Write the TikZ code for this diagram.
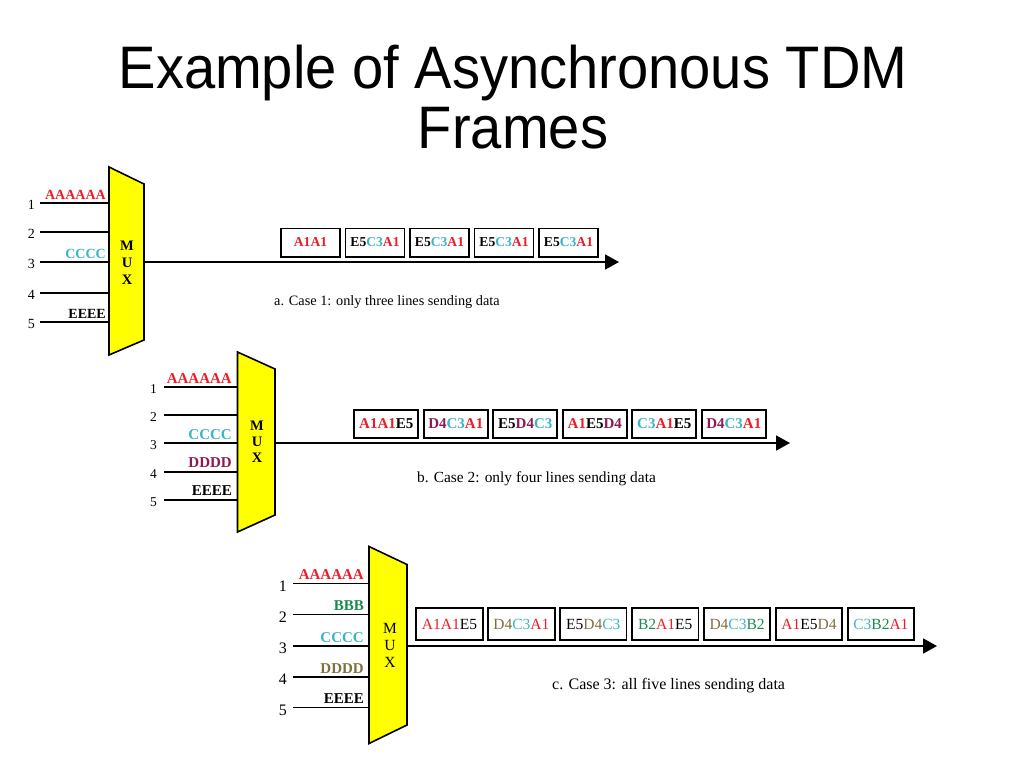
\documentclass[tikz,border=0pt]{standalone}
\usepackage{fontspec}
\setmainfont{Liberation Serif}
\newfontfamily\titlefont{Liberation Sans}
\usetikzlibrary{positioning,arrows.meta}

\definecolor{cA}{HTML}{EE1C25}
\definecolor{cB}{HTML}{1B8A4C}
\definecolor{cC}{HTML}{3CB4C8}
\definecolor{cD}{HTML}{8B1A55}
\definecolor{cE}{HTML}{7F7040}
\definecolor{muxyellow}{HTML}{FFFF00}

\newcommand{\tA}[1]{\textcolor{cA}{#1}}
\newcommand{\tB}[1]{\textcolor{cB}{#1}}
\newcommand{\tC}[1]{\textcolor{cC}{#1}}
\newcommand{\tD}[1]{\textcolor{cD}{#1}}
\newcommand{\tE}[1]{\textcolor{cE}{#1}}

\tikzset{
	wire/.style={line width=1.8pt},
	outline/.style={wire, -{Triangle[length=14pt,width=15pt]}},
	muxbox/.style={draw, line width=1.6pt, fill=muxyellow},
	num/.style={anchor=east, inner sep=0pt},
	inlbl/.style={anchor=base east, inner sep=0pt, font=\bfseries\fontsize{15}{15}\selectfont},
	muxlbl/.style={align=center, inner sep=0pt},
	frm/.style={draw, line width=1.8pt, inner sep=0pt, node distance=3.7pt},
	capt/.style={anchor=base west, inner sep=0pt},
	titletext/.style={anchor=base, align=center, inner sep=0pt, xscale=0.935,
		font=\titlefont\fontsize{60}{60}\selectfont}
}

\begin{document}
\begin{tikzpicture}[x=1pt,y=-1pt]
	\useasboundingbox (0,0) rectangle (1024,768);
	\node[titletext] (title) at (513,148) {Example of Asynchronous TDM\\Frames};
	
	% case 1
	\draw[muxbox] (109,167) -- (144,184) -- (144,340) -- (109,355) -- cycle;
	\node[muxlbl, font=\bfseries\fontsize{14.5}{17}\selectfont] (a-mux) at (127,263) {M\\U\\X};
	\coordinate (a-in1) at (40,203); \coordinate (a-mx1) at (109,203);
	\coordinate (a-in2) at (40,232); \coordinate (a-mx2) at (109,232);
	\coordinate (a-in3) at (40,262); \coordinate (a-mx3) at (109,262);
	\coordinate (a-in4) at (40,293); \coordinate (a-mx4) at (109,293);
	\coordinate (a-in5) at (40,322); \coordinate (a-mx5) at (109,322);
	\coordinate (a-out) at (144,262); \coordinate (a-tip) at (619,262);
	\draw[wire] (a-in1) -- (a-mx1) (a-in2) -- (a-mx2) (a-in3) -- (a-mx3)
	(a-in4) -- (a-mx4) (a-in5) -- (a-mx5);
	\draw[outline] (a-out) -- (a-tip);
	\node[num, font=\fontsize{14}{14}\selectfont] (a-n1) at (35,205) {1};
	\node[num, font=\fontsize{14}{14}\selectfont] (a-n2) at (35,234) {2};
	\node[num, font=\fontsize{14}{14}\selectfont] (a-n3) at (35,264) {3};
	\node[num, font=\fontsize{14}{14}\selectfont] (a-n4) at (35,295) {4};
	\node[num, font=\fontsize{14}{14}\selectfont] (a-n5) at (35,324) {5};
	\node[inlbl, font=\bfseries\fontsize{14}{14}\selectfont, text=cA] (a-l1) at (106,199) {AAAAAA};
	\node[inlbl, font=\bfseries\fontsize{14}{14}\selectfont, text=cC] (a-l3) at (106,258) {CCCC};
	\node[inlbl, font=\bfseries\fontsize{14}{14}\selectfont] (a-l5) at (106,318) {EEEE};
	\tikzset{frma/.style={frm, minimum width=59pt, minimum height=28.2pt,
			font=\bfseries\fontsize{13.6}{13.6}\selectfont}}
	\node[frma] (a-f1) at (310.5,242.5) {\tA{A1A1}};
	\node[frma, right=of a-f1] (a-f2) {E5\tC{C3}\tA{A1}};
	\node[frma, right=of a-f2] (a-f3) {E5\tC{C3}\tA{A1}};
	\node[frma, right=of a-f3] (a-f4) {E5\tC{C3}\tA{A1}};
	\node[frma, right=of a-f4] (a-f5) {E5\tC{C3}\tA{A1}};
	\node[capt, font=\fontsize{14.3}{14.3}\selectfont] (a-cap) at (274,305) {a. Case 1: only three lines sending data};
	
	% case 2
	\draw[muxbox] (237.5,352) -- (275,369) -- (275,515) -- (237.5,532) -- cycle;
	\node[muxlbl, font=\bfseries\fontsize{14.5}{16}\selectfont] (b-mux) at (257,442) {M\\U\\X};
	\coordinate (b-in1) at (164,387); \coordinate (b-mx1) at (237.5,387);
	\coordinate (b-in2) at (164,415); \coordinate (b-mx2) at (237.5,415);
	\coordinate (b-in3) at (164,443); \coordinate (b-mx3) at (237.5,443);
	\coordinate (b-in4) at (164,472); \coordinate (b-mx4) at (237.5,472);
	\coordinate (b-in5) at (164,500); \coordinate (b-mx5) at (237.5,500);
	\coordinate (b-out) at (275,443); \coordinate (b-tip) at (790,443);
	\draw[wire] (b-in1) -- (b-mx1) (b-in2) -- (b-mx2) (b-in3) -- (b-mx3)
	(b-in4) -- (b-mx4) (b-in5) -- (b-mx5);
	\draw[outline] (b-out) -- (b-tip);
	\node[num, font=\fontsize{13.5}{13.5}\selectfont] (b-n1) at (157,389) {1};
	\node[num, font=\fontsize{13.5}{13.5}\selectfont] (b-n2) at (157,417) {2};
	\node[num, font=\fontsize{13.5}{13.5}\selectfont] (b-n3) at (157,445) {3};
	\node[num, font=\fontsize{13.5}{13.5}\selectfont] (b-n4) at (157,474) {4};
	\node[num, font=\fontsize{13.5}{13.5}\selectfont] (b-n5) at (157,502) {5};
	\node[inlbl, text=cA] (b-l1) at (232,383) {AAAAAA};
	\node[inlbl, text=cC] (b-l3) at (232,439) {CCCC};
	\node[inlbl, text=cD] (b-l4) at (232,467) {DDDD};
	\node[inlbl] (b-l5) at (232,495.5) {EEEE};
	\tikzset{frmb/.style={frm, minimum width=64pt, minimum height=27.7pt,
			font=\bfseries\fontsize{15}{15}\selectfont}}
	\node[frmb] (b-f1) at (386.3,424) {\tA{A1A1}E5};
	\node[frmb, right=of b-f1] (b-f2) {\tD{D4}\tC{C3}\tA{A1}};
	\node[frmb, right=of b-f2] (b-f3) {E5\tD{D4}\tC{C3}};
	\node[frmb, right=of b-f3] (b-f4) {\tA{A1}E5\tD{D4}};
	\node[frmb, right=of b-f4] (b-f5) {\tC{C3}\tA{A1}E5};
	\node[frmb, right=of b-f5] (b-f6) {\tD{D4}\tC{C3}\tA{A1}};
	\node[capt, font=\fontsize{15.4}{15.4}\selectfont] (b-cap) at (417,482) {b. Case 2: only four lines sending data};
	
	% case 3
	\draw[muxbox] (369,546.5) -- (407,564.5) -- (407,725) -- (369,743.5) -- cycle;
	\node[muxlbl, font=\fontsize{15.5}{17}\selectfont] (c-mux) at (390,645) {M\\U\\X};
	\coordinate (c-in1) at (293,583.5); \coordinate (c-mx1) at (369,583.5);
	\coordinate (c-in2) at (293,614.5); \coordinate (c-mx2) at (369,614.5);
	\coordinate (c-in3) at (293,646); \coordinate (c-mx3) at (369,646);
	\coordinate (c-in4) at (293,677); \coordinate (c-mx4) at (369,677);
	\coordinate (c-in5) at (293,707.5); \coordinate (c-mx5) at (369,707.5);
	\coordinate (c-out) at (407,646); \coordinate (c-tip) at (937,646);
	\draw[wire] (c-in1) -- (c-mx1) (c-in2) -- (c-mx2) (c-in3) -- (c-mx3)
	(c-in4) -- (c-mx4) (c-in5) -- (c-mx5);
	\draw[outline] (c-out) -- (c-tip);
	\node[num, font=\fontsize{16}{16}\selectfont] (c-n1) at (287,586) {1};
	\node[num, font=\fontsize{16}{16}\selectfont] (c-n2) at (287,617) {2};
	\node[num, font=\fontsize{16}{16}\selectfont] (c-n3) at (287,648.5) {3};
	\node[num, font=\fontsize{16}{16}\selectfont] (c-n4) at (287,679.5) {4};
	\node[num, font=\fontsize{16}{16}\selectfont] (c-n5) at (287,710) {5};
	\node[inlbl, text=cA] (c-l1) at (364,579.5) {AAAAAA};
	\node[inlbl, text=cB] (c-l2) at (364,610.5) {BBB};
	\node[inlbl, text=cC] (c-l3) at (364,642) {CCCC};
	\node[inlbl, text=cE] (c-l4) at (364,673) {DDDD};
	\node[inlbl] (c-l5) at (364,703.5) {EEEE};
	\tikzset{frmc/.style={frm, minimum width=66.4pt, minimum height=31.7pt,
			font=\fontsize{15.5}{15.5}\selectfont}}
	\node[frmc] (c-f1) at (449.5,624) {\tA{A1A1}E5};
	\node[frmc, right=of c-f1] (c-f2) {\tE{D4}\tC{C3}\tA{A1}};
	\node[frmc, right=of c-f2] (c-f3) {E5\tE{D4}\tC{C3}};
	\node[frmc, right=of c-f3] (c-f4) {\tB{B2}\tA{A1}E5};
	\node[frmc, right=of c-f4] (c-f5) {\tE{D4}\tC{C3}\tB{B2}};
	\node[frmc, right=of c-f5] (c-f6) {\tA{A1}E5\tE{D4}};
	\node[frmc, right=of c-f6] (c-f7) {\tC{C3}\tB{B2}\tA{A1}};
	\node[capt, font=\fontsize{16}{16}\selectfont] (c-cap) at (552,689) {c. Case 3: all five lines sending data};
\end{tikzpicture}
\end{document}
